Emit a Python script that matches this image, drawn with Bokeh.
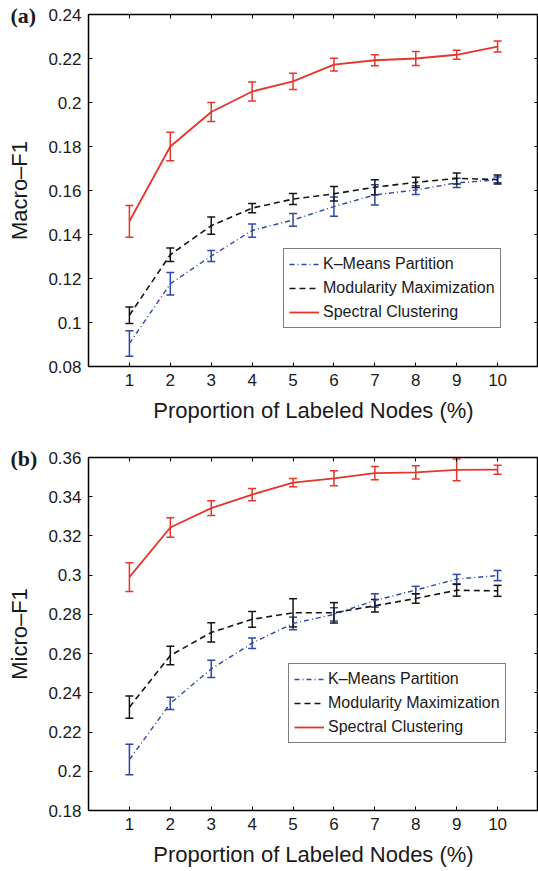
from bokeh.plotting import figure
from bokeh.layouts import column
from bokeh.models import (ColumnDataSource, Whisker, TeeHead, FixedTicker, LinearAxis,
                          Range1d, Legend, LegendItem, CustomJSTickFormatter, Title)
from bokeh.embed import file_html
from bokeh.resources import INLINE

# ---------------- data ----------------
PROPORTION = [1, 2, 3, 4, 5, 6, 7, 8, 9, 10]
X_TICK_LABELS = ["1", "2", "3", "4", "5", "6", "7", "8", "9", "10"]

SERIES_NAMES = ["K\u2013Means Partition", "Modularity Maximization", "Spectral Clustering"]

# (a) Macro-F1
KM_MEAN_A = [0.0905, 0.1176, 0.1302, 0.1418, 0.1466, 0.1527, 0.1580, 0.1602, 0.1635, 0.1648]
KM_ERR_A = [0.0058, 0.0051, 0.0025, 0.0030, 0.0029, 0.0044, 0.0046, 0.0020, 0.0021, 0.0013]
MM_MEAN_A = [0.1033, 0.1308, 0.1440, 0.1520, 0.1561, 0.1585, 0.1615, 0.1637, 0.1655, 0.1650]
MM_ERR_A = [0.0038, 0.0031, 0.0039, 0.0021, 0.0025, 0.0033, 0.0034, 0.0023, 0.0025, 0.0020]
SC_MEAN_A = [0.1460, 0.1800, 0.1957, 0.2050, 0.2096, 0.2172, 0.2192, 0.2200, 0.2217, 0.2254]
SC_ERR_A = [0.0072, 0.0065, 0.0043, 0.0043, 0.0037, 0.0029, 0.0025, 0.0032, 0.0020, 0.0025]
MACRO_TICKS = [0.08, 0.10, 0.12, 0.14, 0.16, 0.18, 0.20, 0.22, 0.24]
MACRO_TICK_LABELS = ["0.08", "0.1", "0.12", "0.14", "0.16", "0.18", "0.2", "0.22", "0.24"]

# (b) Micro-F1
KM_MEAN_B = [0.2060, 0.2346, 0.2522, 0.2653, 0.2754, 0.2800, 0.2871, 0.2924, 0.2980, 0.2998]
KM_ERR_B = [0.0078, 0.0031, 0.0044, 0.0027, 0.0032, 0.0034, 0.0034, 0.0019, 0.0024, 0.0026]
MM_MEAN_B = [0.2327, 0.2590, 0.2708, 0.2775, 0.2808, 0.2808, 0.2844, 0.2881, 0.2923, 0.2920]
MM_ERR_B = [0.0057, 0.0047, 0.0049, 0.0040, 0.0072, 0.0052, 0.0032, 0.0024, 0.0030, 0.0028]
SC_MEAN_B = [0.2990, 0.3243, 0.3342, 0.3411, 0.3472, 0.3494, 0.3520, 0.3524, 0.3537, 0.3538]
SC_ERR_B = [0.0073, 0.0050, 0.0038, 0.0031, 0.0021, 0.0038, 0.0034, 0.0034, 0.0055, 0.0023]
MICRO_TICKS = [0.18, 0.20, 0.22, 0.24, 0.26, 0.28, 0.30, 0.32, 0.34, 0.36]
MICRO_TICK_LABELS = ["0.18", "0.2", "0.22", "0.24", "0.26", "0.28", "0.3", "0.32", "0.34", "0.36"]

X_LABEL = "Proportion of Labeled Nodes (%)"

# ---------------- styles ----------------
FONT = "Liberation Sans"
COLORS = ["#2f47a6", "#151515", "#e6352b"]
DASHES = ["5 3 1 3", "6 4", "solid"]
WIDTHS = [1.4, 1.6, 1.8]

LABEL_JS = """
let best = 0, bd = Infinity;
for (let i = 0; i < tv.length; i++) {
  const d = Math.abs(tv[i] - tick);
  if (d < bd) { bd = d; best = i; }
}
return tl[best];
"""


def make_panel(tag, ylabel, yticks, ylabels, means, errs, height, mb_top, mb_bottom, legend_xy):
    ymin, ymax = yticks[0], yticks[-1]
    p = figure(width=538, height=height, output_backend="svg", toolbar_location=None,
               x_range=Range1d(0, 11), y_range=Range1d(ymin, ymax),
               min_border_left=88, min_border_right=0,
               min_border_top=mb_top, min_border_bottom=mb_bottom,
               background_fill_color="white", border_fill_color="white")
    p.grid.visible = False
    p.outline_line_color = "black"
    p.outline_line_width = 1.5

    xa = p.xaxis[0]
    xa.ticker = FixedTicker(ticks=PROPORTION)
    xa.formatter = CustomJSTickFormatter(args=dict(tv=PROPORTION, tl=X_TICK_LABELS), code=LABEL_JS)
    ya = p.yaxis[0]
    ya.ticker = FixedTicker(ticks=yticks)
    ya.formatter = CustomJSTickFormatter(args=dict(tv=yticks, tl=ylabels), code=LABEL_JS)
    for ax in (xa, ya):
        ax.axis_line_color = None
        ax.major_tick_in = 4
        ax.major_tick_out = 0
        ax.major_tick_line_color = "black"
        ax.major_tick_line_width = 1
        ax.minor_tick_line_color = None
        ax.major_label_text_font = FONT
        ax.major_label_text_font_size = "17px"
        ax.major_label_text_color = "#1a1a1a"
        ax.major_label_standoff = 7
        ax.axis_label_text_font = FONT
        ax.axis_label_text_font_size = "22px"
        ax.axis_label_text_font_style = "normal"
        ax.axis_label_text_color = "#1a1a1a"
    xa.axis_label = X_LABEL
    xa.axis_label_standoff = 9
    ya.axis_label = ylabel
    ya.axis_label_standoff = 13

    # mirror ticks (top / right), MATLAB box style
    for loc, tks in (("above", PROPORTION), ("right", yticks)):
        ax = LinearAxis(ticker=FixedTicker(ticks=tks),
                        formatter=CustomJSTickFormatter(code="return ''"),
                        axis_line_color=None, major_tick_in=4, major_tick_out=0,
                        major_tick_line_color="black", minor_tick_line_color=None,
                        major_label_standoff=0, major_label_text_font_size="0px")
        p.add_layout(ax, loc)

    items = []
    for name, color, dash, lw, m, e in zip(SERIES_NAMES, COLORS, DASHES, WIDTHS, means, errs):
        src = ColumnDataSource(dict(x=PROPORTION, y=m,
                                    lower=[a - b for a, b in zip(m, e)],
                                    upper=[a + b for a, b in zip(m, e)]))
        r = p.line("x", "y", source=src, line_color=color, line_width=lw, line_dash=dash)
        w = Whisker(base="x", upper="upper", lower="lower", source=src,
                    line_color=color, line_width=1.5,
                    upper_head=TeeHead(size=8, line_color=color, line_width=1.5),
                    lower_head=TeeHead(size=8, line_color=color, line_width=1.5))
        p.add_layout(w)
        items.append(LegendItem(label=name, renderers=[r]))

    leg = Legend(items=items, location=legend_xy, orientation="vertical",
                 border_line_color="black", border_line_width=1.2,
                 background_fill_color="white", background_fill_alpha=1,
                 label_text_font=FONT, label_text_font_size="16px", label_text_color="#1a1a1a",
                 glyph_width=30, glyph_height=20, label_height=20, label_standoff=4,
                 spacing=4, padding=5, margin=0)
    p.add_layout(leg, "center")

    # panel tag "(a)" / "(b)" in the top-left corner
    p.title = Title(text=tag, align="left", offset=-78, standoff=-27,
                    text_font="Liberation Serif", text_font_style="bold",
                    text_font_size="22px", text_color="#1a1a1a")
    return p


p1 = make_panel("(a)", "Macro\u2013F1", MACRO_TICKS, MACRO_TICK_LABELS,
                [KM_MEAN_A, MM_MEAN_A, SC_MEAN_A], [KM_ERR_A, MM_ERR_A, SC_ERR_A],
                height=438, mb_top=14, mb_bottom=72, legend_xy=(195, 38))
p2 = make_panel("(b)", "Micro\u2013F1", MICRO_TICKS, MICRO_TICK_LABELS,
                [KM_MEAN_B, MM_MEAN_B, SC_MEAN_B], [KM_ERR_B, MM_ERR_B, SC_ERR_B],
                height=433, mb_top=19, mb_bottom=61, legend_xy=(200, 67))

layout = column(p1, p2, spacing=0)
open("out.html", "w").write(file_html(layout, INLINE))
